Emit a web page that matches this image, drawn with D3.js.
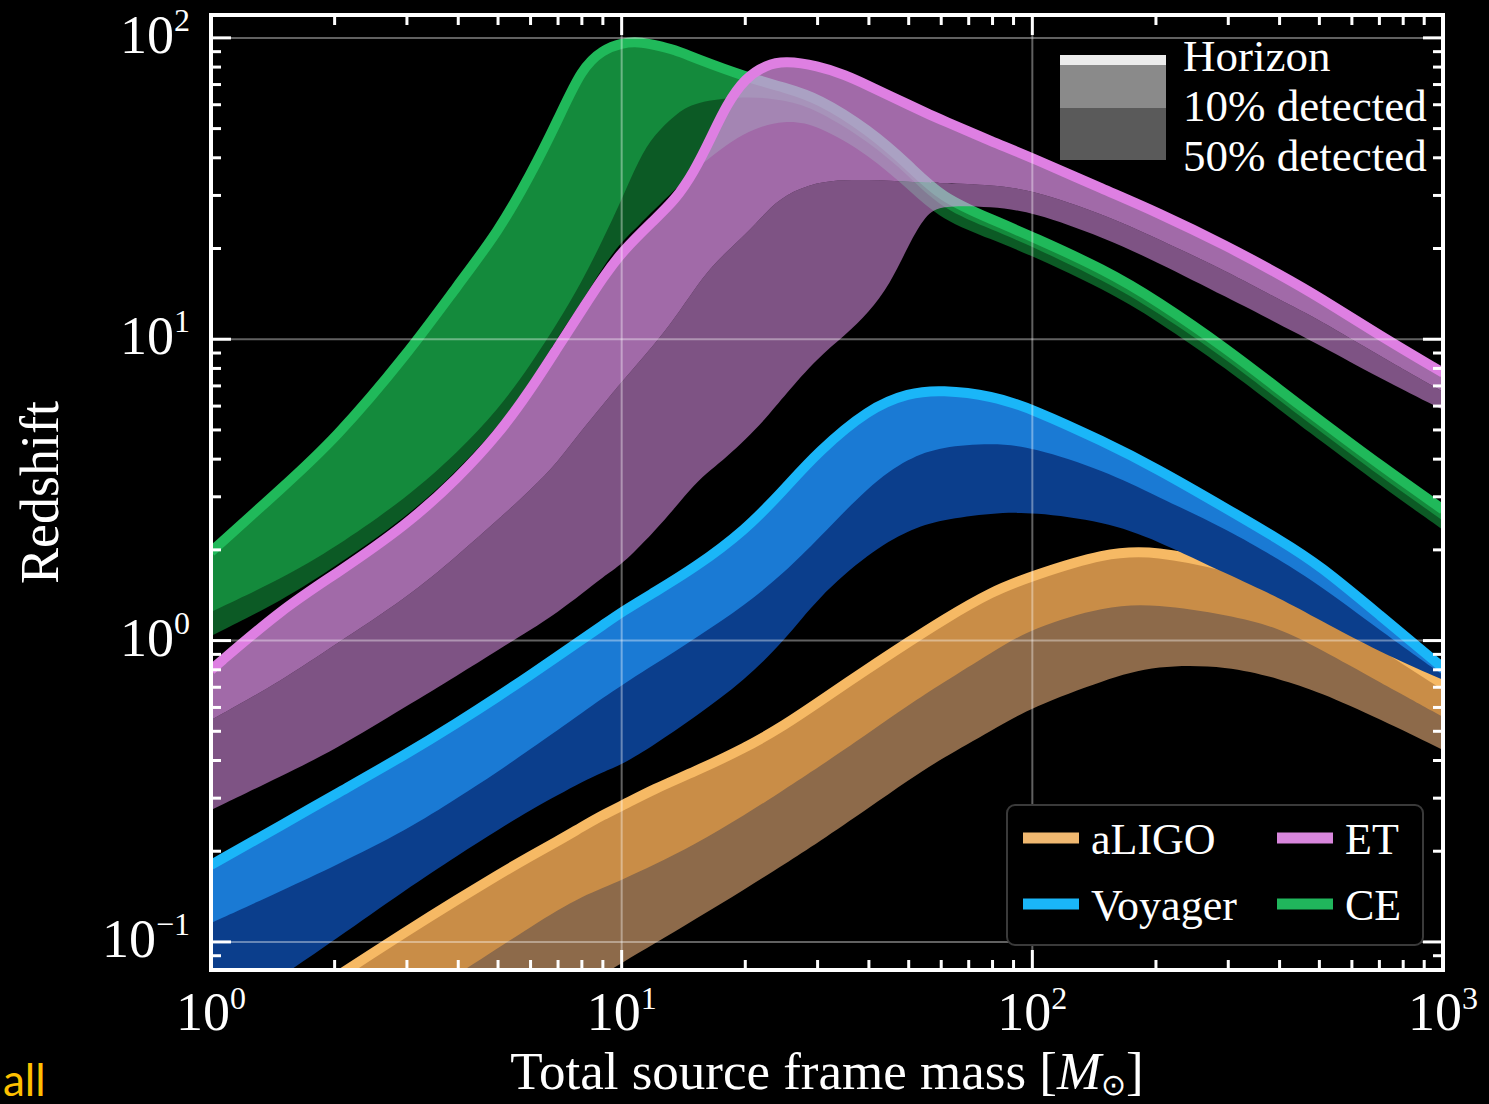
<!DOCTYPE html>
<html>
<head>
<meta charset="utf-8">
<script src="https://cdn.jsdelivr.net/npm/d3@7"></script>
<style>
  html, body { margin: 0; padding: 0; background: #000; }
  svg { display: block; }
</style>
</head>
<body>
<svg id="chart" width="1489" height="1104"></svg>
<script>
// Reach of ground-based gravitational-wave detectors:
// horizon redshift and the redshifts where 10% / 50% of sources are detected,
// as a function of total source-frame mass (solar masses).

// ---- aLIGO ----
const aligoMass = [1, 1.5, 2, 3, 4, 5, 6, 7, 8, 9, 10, 12, 15, 20, 25, 30, 40, 50, 60, 80, 100, 150, 200, 300, 400, 500, 700, 1000];
const aligoHorizon = [0.0415, 0.0590, 0.0760, 0.1088, 0.1389, 0.1669, 0.1929, 0.2164, 0.2408, 0.2639, 0.2828, 0.3220, 0.3666, 0.4404, 0.5251, 0.6213, 0.8117, 0.990, 1.162, 1.462, 1.640, 1.960, 1.990, 1.770, 1.560, 1.365, 0.975, 0.718];
const aligoTen = [0.0238, 0.0335, 0.0431, 0.0613, 0.0783, 0.0955, 0.1121, 0.1277, 0.1411, 0.1511, 0.1606, 0.1801, 0.2099, 0.2639, 0.3220, 0.3780, 0.4939, 0.6116, 0.7183, 0.9172, 1.102, 1.304, 1.324, 1.217, 1.102, 0.939, 0.729, 0.558];
const aligoFifty = [0.0129, 0.0179, 0.0229, 0.0318, 0.0403, 0.0480, 0.0559, 0.0632, 0.0709, 0.0777, 0.0852, 0.0985, 0.1183, 0.1500, 0.1815, 0.2131, 0.2784, 0.3449, 0.4050, 0.5054, 0.6025, 0.7406, 0.8305, 0.8242, 0.7463, 0.6757, 0.5497, 0.4337];

// ---- Voyager ----
const voyagerMass = [1, 1.5, 2, 3, 4, 5, 6, 7, 8, 9, 10, 12, 15, 20, 25, 30, 40, 50, 60, 80, 100, 150, 200, 300, 400, 500, 700, 1000];
const voyagerHorizon = [0.180, 0.246, 0.308, 0.421, 0.536, 0.652, 0.770, 0.889, 1.007, 1.125, 1.245, 1.445, 1.738, 2.32, 3.20, 4.22, 5.89, 6.64, 6.79, 6.49, 5.87, 4.56, 3.74, 2.72, 2.16, 1.783, 1.217, 0.812];
const voyagerTen = [0.1156, 0.1488, 0.1788, 0.2353, 0.302, 0.367, 0.437, 0.506, 0.575, 0.646, 0.711, 0.832, 1.012, 1.312, 1.690, 2.16, 3.27, 4.04, 4.40, 4.53, 4.39, 3.66, 3.02, 2.33, 1.853, 1.530, 1.085, 0.769];
const voyagerFifty = [0.0530, 0.0777, 0.1015, 0.1500, 0.1944, 0.2353, 0.2742, 0.3074, 0.3396, 0.3666, 0.3868, 0.4506, 0.5539, 0.7406, 1.005, 1.386, 1.954, 2.33, 2.52, 2.65, 2.67, 2.48, 2.16, 1.652, 1.386, 1.171, 0.917, 0.741];

// ---- Cosmic Explorer ----
const ceMass = [1, 1.5, 2, 3, 4, 5, 6, 7, 8, 9, 10, 11, 12, 13.5, 15, 20, 25, 30, 40, 50, 60, 80, 100, 150, 200, 300, 400, 500, 700, 1000];
const ceHorizon = [1.97, 3.24, 4.64, 8.88, 15.2, 22.7, 35.1, 53.5, 79.6, 91.3, 96.3, 97.1, 94.9, 91.3, 85.9, 74.3, 68.3, 63.3, 49.5, 37.9, 29.5, 24.9, 21.9, 17.0, 13.5, 9.22, 6.79, 5.40, 3.83, 2.72];
const ceTen = [1.245, 1.615, 2.03, 2.98, 4.23, 5.83, 8.22, 11.4, 15.5, 21.4, 29.0, 39.4, 47.7, 55.6, 61.4, 64.2, 62.3, 57.7, 45.2, 34.9, 27.1, 23.1, 20.3, 15.6, 12.4, 8.48, 6.25, 4.97, 3.52, 2.50];
const ceFifty = [1.036, 1.365, 1.756, 2.57, 3.69, 5.12, 7.22, 10.2, 13.3, 17.4, 21.1, 23.8, 26.9, 31.3, 36.5, 49.5, 53.5, 51.5, 40.9, 31.3, 24.9, 21.4, 18.9, 14.6, 11.6, 7.91, 5.83, 4.64, 3.29, 2.33];

// ---- Einstein Telescope ----
const etMass = [1, 1.5, 2, 3, 4, 5, 6, 7, 8, 9, 10, 12, 13.5, 15, 16.5, 18, 20, 22.5, 25, 30, 35, 40, 45, 50, 55, 60, 80, 100, 150, 200, 300, 400, 500, 700, 1000];
const etHorizon = [0.799, 1.284, 1.652, 2.42, 3.47, 4.82, 6.79, 9.44, 12.5, 16.0, 19.5, 24.9, 29.0, 35.9, 46.6, 60.0, 73.7, 81.4, 83.9, 80.8, 75.4, 69.3, 64.2, 60.0, 56.4, 53.5, 45.2, 40.0, 31.3, 26.5, 20.3, 16.4, 13.8, 10.3, 7.74];
const etTen = [0.545, 0.741, 0.968, 1.386, 1.925, 2.52, 3.16, 3.92, 5.00, 6.06, 7.22, 9.58, 11.8, 14.6, 17.3, 19.5, 22.2, 26.5, 30.2, 33.3, 33.8, 33.8, 33.6, 33.3, 33.0, 33.0, 32.5, 31.3, 25.9, 21.7, 16.7, 13.5, 11.6, 8.81, 6.69];
const etFifty = [0.274, 0.358, 0.434, 0.607, 0.769, 0.931, 1.085, 1.245, 1.429, 1.627, 1.783, 2.30, 2.76, 3.29, 3.69, 4.07, 4.64, 5.48, 6.54, 8.68, 10.3, 12.3, 15.2, 20.6, 25.9, 27.9, 27.5, 26.5, 21.7, 18.1, 13.7, 11.2, 9.58, 7.44, 5.83];

// Axis ticks (decades) and legend texts
const xDecades = [1, 10, 100, 1000];
const xExponents = ["0", "1", "2", "3"];
const yDecades = [0.1, 1, 10, 100];
const yExponents = ["\u22121", "0", "1", "2"];
const shadeLabels = ["Horizon", "10% detected", "50% detected"];
const detectorNames = ["aLIGO", "Voyager", "ET", "CE"];

// Opaque detectors use two solid shades; ET uses one translucent colour at two strengths
const detectors = [
  { name: "aLIGO", mass: aligoMass, horizon: aligoHorizon, ten: aligoTen, fifty: aligoFifty,
    line: "#f6b964", fillTen: "#c98d47", fillFifty: "#8d6a4a", opTen: 1, opFifty: 1, stacked: true },
  { name: "Voyager", mass: voyagerMass, horizon: voyagerHorizon, ten: voyagerTen, fifty: voyagerFifty,
    line: "#1ab6f8", fillTen: "#1a7ad4", fillFifty: "#0b3e8c", opTen: 1, opFifty: 1, stacked: true },
  { name: "CE", mass: ceMass, horizon: ceHorizon, ten: ceTen, fifty: ceFifty,
    line: "#20b95a", fillTen: "#148a3c", fillFifty: "#0c5a25", opTen: 1, opFifty: 1, stacked: true },
  { name: "ET", mass: etMass, horizon: etHorizon, ten: etTen, fifty: etFifty,
    line: "#de7fe2", fillTen: "#e597f0", fillFifty: "#e597f0", opTen: 0.7, opFifty: 0.55, stacked: false }
];
const legendColor = { aLIGO: "#f0b870", Voyager: "#1ab6f8", ET: "#d886dc", CE: "#20b65c" };

// ---- layout ----
const W = 1489, H = 1104;
const plotL = 211, plotR = 1443, plotT = 15, plotB = 970;
const serif = "'Liberation Serif', 'Times New Roman', serif";

const x = d3.scaleLog().domain([1, 1000]).range([plotL, plotR]);
const y = d3.scaleLog().domain([0.0807, 119.1]).range([plotB, plotT]);

const svg = d3.select("#chart");
svg.append("rect").attr("width", W).attr("height", H).attr("fill", "#000");

const defs = svg.append("defs");
defs.append("clipPath").attr("id", "plotClip")
  .append("rect").attr("x", plotL).attr("y", plotT).attr("width", plotR - plotL).attr("height", plotB - plotT);

const plot = svg.append("g").attr("clip-path", "url(#plotClip)");
const smooth = d3.curveBasis;

detectors.forEach(d => {
  const idx = d3.range(d.mass.length);
  const g = plot.append("g");
  const xs = i => x(d.mass[i]);
  // lower band: 10% -> 50% detected (opaque ones run up to the horizon, avoiding seams)
  const lowerTop = d.stacked ? d.horizon : d.ten;
  const areaFifty = d3.area().curve(smooth)
    .x(xs).y0(i => y(d.fifty[i])).y1(i => y(lowerTop[i]));
  const areaTen = d3.area().curve(smooth)
    .x(xs).y0(i => y(d.ten[i])).y1(i => y(d.horizon[i]));
  const horizonLine = d3.line().curve(smooth)
    .x(xs).y(i => y(d.horizon[i]));

  g.append("path").attr("d", areaFifty(idx)).attr("fill", d.fillFifty).attr("fill-opacity", d.opFifty);
  g.append("path").attr("d", areaTen(idx)).attr("fill", d.fillTen).attr("fill-opacity", d.opTen);
  g.append("path").attr("d", horizonLine(idx)).attr("fill", "none")
    .attr("stroke", d.line).attr("stroke-width", 10)
    .attr("stroke-linejoin", "round").attr("stroke-linecap", "butt");
});

// ---- grid at decades ----
const grid = svg.append("g").attr("stroke", "#ffffff").attr("stroke-opacity", 0.38).attr("stroke-width", 2);
xDecades.slice(1, -1).forEach(v => {
  grid.append("line").attr("x1", x(v)).attr("x2", x(v)).attr("y1", plotT).attr("y2", plotB);
});
yDecades.forEach(v => {
  grid.append("line").attr("x1", plotL).attr("x2", plotR).attr("y1", y(v)).attr("y2", y(v));
});

// ---- frame and inward ticks on all four sides ----
const axes = svg.append("g").attr("stroke", "#fff").attr("stroke-width", 3);
const minorX = [], minorY = [];
[1, 10, 100].forEach(b => { for (let k = 2; k <= 9; k++) minorX.push(b * k); });
[0.01, 0.1, 1, 10, 100].forEach(b => { for (let k = 2; k <= 9; k++) { const v = b * k; if (v > 0.0807 && v < 119) minorY.push(v); } });

const majLen = 20, minLen = 10;
xDecades.forEach(v => {
  axes.append("line").attr("x1", x(v)).attr("x2", x(v)).attr("y1", plotB).attr("y2", plotB - majLen);
  axes.append("line").attr("x1", x(v)).attr("x2", x(v)).attr("y1", plotT).attr("y2", plotT + majLen);
});
minorX.forEach(v => {
  axes.append("line").attr("x1", x(v)).attr("x2", x(v)).attr("y1", plotB).attr("y2", plotB - minLen);
  axes.append("line").attr("x1", x(v)).attr("x2", x(v)).attr("y1", plotT).attr("y2", plotT + minLen);
});
yDecades.forEach(v => {
  axes.append("line").attr("x1", plotL).attr("x2", plotL + majLen).attr("y1", y(v)).attr("y2", y(v));
  axes.append("line").attr("x1", plotR).attr("x2", plotR - majLen).attr("y1", y(v)).attr("y2", y(v));
});
minorY.forEach(v => {
  axes.append("line").attr("x1", plotL).attr("x2", plotL + minLen).attr("y1", y(v)).attr("y2", y(v));
  axes.append("line").attr("x1", plotR).attr("x2", plotR - minLen).attr("y1", y(v)).attr("y2", y(v));
});
svg.append("rect").attr("x", plotL).attr("y", plotT).attr("width", plotR - plotL).attr("height", plotB - plotT)
  .attr("fill", "none").attr("stroke", "#fff").attr("stroke-width", 4);

// ---- tick labels (10 with superscript exponent) ----
const labels = svg.append("g").attr("fill", "#fff").attr("font-family", serif);
xDecades.forEach((v, i) => {
  const t = labels.append("text").attr("x", x(v)).attr("y", 1030).attr("text-anchor", "middle").attr("font-size", 54);
  t.append("tspan").text("10");
  t.append("tspan").attr("dy", -21).attr("font-size", 32).text(xExponents[i]);
});
yDecades.forEach((v, i) => {
  const t = labels.append("text").attr("x", 190).attr("y", y(v) + 15).attr("text-anchor", "end").attr("font-size", 54);
  t.append("tspan").text("10");
  t.append("tspan").attr("dy", -22).attr("font-size", 32).text(yExponents[i]);
});

// axis titles
const xt = labels.append("text").attr("x", (plotL + plotR) / 2).attr("y", 1089)
  .attr("text-anchor", "middle").attr("font-size", 53);
xt.append("tspan").text("Total source frame mass [");
xt.append("tspan").attr("font-style", "italic").text("M");
xt.append("tspan").attr("font-size", 30).attr("dy", 6).text("\u2299");
xt.append("tspan").attr("dy", -6).text("]");

labels.append("text").attr("transform", `translate(58, ${(plotT + plotB) / 2}) rotate(-90)`)
  .attr("text-anchor", "middle").attr("font-size", 54).text("Redshift");

// ---- shading legend (top right) ----
const shade = svg.append("g");
shade.append("rect").attr("x", 1060).attr("y", 108).attr("width", 106).attr("height", 52).attr("fill", "#5a5a5a");
shade.append("rect").attr("x", 1060).attr("y", 64).attr("width", 106).attr("height", 44).attr("fill", "#8a8a8a");
shade.append("rect").attr("x", 1060).attr("y", 55).attr("width", 106).attr("height", 10).attr("fill", "#ececec");
shadeLabels.forEach((s, i) => {
  shade.append("text").attr("x", 1183).attr("y", 71 + i * 50).attr("fill", "#fff")
    .attr("font-family", serif).attr("font-size", 45).text(s);
});

// ---- detector legend (bottom right) ----
const leg = svg.append("g");
leg.append("rect").attr("x", 1007).attr("y", 805).attr("width", 416).attr("height", 140).attr("rx", 8)
  .attr("fill", "#000").attr("stroke", "#3a3a3a").attr("stroke-width", 2);
const legPos = { aLIGO: [1023, 838], ET: [1277, 838], Voyager: [1023, 904], CE: [1277, 904] };
detectorNames.forEach(n => {
  const [lx, ly] = legPos[n];
  leg.append("line").attr("x1", lx).attr("x2", lx + 56).attr("y1", ly).attr("y2", ly)
    .attr("stroke", legendColor[n]).attr("stroke-width", 11);
  leg.append("text").attr("x", lx + 68).attr("y", ly + 16).attr("fill", "#fff")
    .attr("font-family", serif).attr("font-size", 44).text(n);
});

// corner caption
svg.append("text").attr("x", 3).attr("y", 1096).attr("fill", "#ffc000")
  .attr("font-family", "Lato, 'Open Sans', sans-serif").attr("font-size", 44).text("all");
</script>
</body>
</html>
